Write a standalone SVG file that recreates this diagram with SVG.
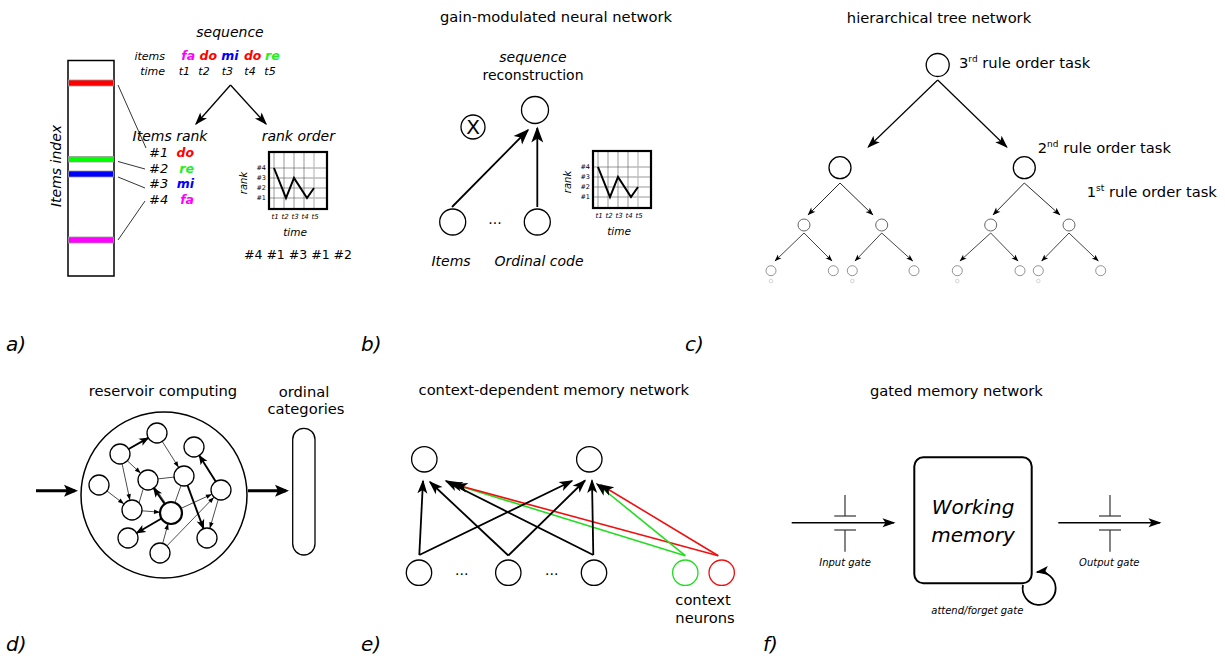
<svg xmlns="http://www.w3.org/2000/svg" xmlns:xlink="http://www.w3.org/1999/xlink" width="1225" height="660" viewBox="0 0 1225 660">
<style>
text{font-family:"DejaVu Sans","Liberation Sans",sans-serif;fill:#000}
.it{font-style:italic}
.bi{font-style:italic;font-weight:bold}
.t{font-size:14.7px}
.lbl{font-size:20px;font-style:italic}
.node{fill:#fff;stroke:#000;stroke-width:1.3}
.ln{fill:none;stroke:#000}
</style>
<defs>
<marker id="mA" markerUnits="userSpaceOnUse" markerWidth="14" markerHeight="10" refX="11.5" refY="4.5" orient="auto" overflow="visible"><path d="M0,0 L13,4.5 L0,9 L3,4.5 Z" fill="#000"/></marker>
<marker id="mB" markerUnits="userSpaceOnUse" markerWidth="17" markerHeight="13" refX="14.5" refY="6" orient="auto" overflow="visible"><path d="M0,0 L16,6 L0,12 L4,6 Z" fill="#000"/></marker>
<marker id="mE" markerUnits="userSpaceOnUse" markerWidth="15" markerHeight="11" refX="12.5" refY="5" orient="auto" overflow="visible"><path d="M0,0 L14,5 L0,10 L3.5,5 Z" fill="#000"/></marker>
<marker id="mS" markerUnits="userSpaceOnUse" markerWidth="9" markerHeight="7" refX="7.5" refY="3" orient="auto" overflow="visible"><path d="M0,0 L8,3 L0,6 L2,3 Z" fill="#000"/></marker>
<marker id="mT" markerUnits="userSpaceOnUse" markerWidth="8" markerHeight="6" refX="6.5" refY="2.6" orient="auto" overflow="visible"><path d="M0,0 L7,2.6 L0,5.2 L1.7,2.6 Z" fill="#000"/></marker>
<marker id="mDt" markerUnits="userSpaceOnUse" markerWidth="7" markerHeight="5" refX="6" refY="2.2" orient="auto" overflow="visible"><path d="M0,0 L6,2.2 L0,4.4 Z" fill="#000"/></marker>
<marker id="mDk" markerUnits="userSpaceOnUse" markerWidth="11" markerHeight="9" refX="9" refY="4" orient="auto" overflow="visible"><path d="M0,0 L10,4 L0,8 L2.5,4 Z" fill="#000"/></marker>
<marker id="mBig" markerUnits="userSpaceOnUse" markerWidth="15" markerHeight="13" refX="11" refY="6" orient="auto" overflow="visible"><path d="M0,0 L14,6 L0,12 L3,6 Z" fill="#000"/></marker>
<g id="chart">
 <g stroke="#555" stroke-width="0.6">
  <line x1="5" y1="0" x2="5" y2="57"/><line x1="15" y1="0" x2="15" y2="57"/><line x1="25" y1="0" x2="25" y2="57"/><line x1="35" y1="0" x2="35" y2="57"/>
  <line x1="0" y1="16" x2="58" y2="16"/><line x1="0" y1="26" x2="58" y2="26"/><line x1="0" y1="36" x2="58" y2="36"/><line x1="0" y1="46" x2="58" y2="46"/>
 </g>
 <line x1="45" y1="0" x2="45" y2="57" stroke="#bbb" stroke-width="1.2"/>
 <rect x="0" y="0" width="58" height="57" fill="none" stroke="#000" stroke-width="2.2"/>
 <polyline points="5,16 17,46 25,26 38,46 45,36" fill="none" stroke="#000" stroke-width="2"/>
 <g style="font-size:6.5px" text-anchor="end">
  <text x="-3" y="18.3">#4</text><text x="-3" y="28.3">#3</text><text x="-3" y="38.3">#2</text><text x="-3" y="48.3">#1</text>
 </g>
 <text class="it" style="font-size:10px" text-anchor="middle" transform="translate(-22,31) rotate(-90)">rank</text>
 <g class="it" style="font-size:7px" text-anchor="middle">
  <text x="6" y="67">t1</text><text x="16" y="67">t2</text><text x="26" y="67">t3</text><text x="36" y="67">t4</text><text x="46" y="67">t5</text>
 </g>
 <text class="it" style="font-size:10.5px" x="26" y="83.5" text-anchor="middle">time</text>
</g>
</defs>

<!-- Panel labels -->
<g id="panel-labels">
<text class="lbl" x="6" y="351">a)</text>
<text class="lbl" x="361" y="351">b)</text>
<text class="lbl" x="685" y="351">c)</text>
<text class="lbl" x="6" y="651">d)</text>
<text class="lbl" x="361" y="651">e)</text>
<text class="lbl" x="763" y="651">f)</text>
</g>

<!-- Panel a -->
<g id="a-index">
 <rect x="68" y="60.5" width="46" height="215.5" fill="#fff" stroke="#000" stroke-width="1.5"/>
 <g stroke="#999" stroke-width="0.8">
  <rect x="68.5" y="80" width="45" height="6" fill="#ff0000"/>
  <rect x="68.5" y="156.5" width="45" height="5.5" fill="#00ff00"/>
  <rect x="68.5" y="171" width="45" height="6" fill="#0000ff"/>
  <rect x="68.5" y="237" width="45" height="6" fill="#ff00ff"/>
 </g>
 <text class="it t" style="font-size:14px" text-anchor="middle" transform="translate(61,166) rotate(-90)">Items index</text>
</g>
<g id="a-sequence">
 <text class="it" style="font-size:14px" x="230" y="36.5" text-anchor="middle">sequence</text>
 <text class="it" style="font-size:11px" x="165" y="60" text-anchor="end">items</text>
 <text class="it" style="font-size:11px" x="165" y="75" text-anchor="end">time</text>
 <g class="bi" style="font-size:12.5px" text-anchor="middle">
  <text x="188.3" y="60" style="fill:#ff00ff">fa</text>
  <text x="208.3" y="60" style="fill:#ff0000">do</text>
  <text x="230" y="60" style="fill:#0000ff">mi</text>
  <text x="252.7" y="60" style="fill:#ff0000">do</text>
  <text x="272.3" y="60" style="fill:#22ee22">re</text>
 </g>
 <g class="it" style="font-size:11px" text-anchor="middle">
  <text x="184.3" y="75">t1</text><text x="204" y="75">t2</text><text x="227.3" y="75">t3</text><text x="250" y="75">t4</text><text x="270" y="75">t5</text>
 </g>
</g>
<g id="a-rank">
 <text class="it" style="font-size:14px" x="170" y="141" text-anchor="middle">Items rank</text>
 <g class="it" style="font-size:13px">
  <text x="149" y="157">#1</text><text x="149" y="172.7">#2</text><text x="149" y="188.3">#3</text><text x="149" y="204">#4</text>
 </g>
 <g class="bi" style="font-size:12.5px" text-anchor="end">
  <text x="194" y="157" style="fill:#ff0000">do</text>
  <text x="194" y="172.7" style="fill:#22ee22">re</text>
  <text x="194" y="188.3" style="fill:#0000ff">mi</text>
  <text x="194" y="204" style="fill:#ff00ff">fa</text>
 </g>
</g>
<g id="a-rankorder">
 <text class="it" style="font-size:14px" x="298.3" y="140.5" text-anchor="middle">rank order</text>
 <use xlink:href="#chart" href="#chart" x="269" y="152"/>
 <text style="font-size:12.5px" x="298" y="259" text-anchor="middle">#4 #1 #3 #1 #2</text>
</g>
<g id="a-connectors">
 <g class="ln" stroke-width="0.8" stroke="#333">
  <line x1="118" y1="85" x2="146" y2="148"/>
  <line x1="118" y1="161.5" x2="145" y2="169"/>
  <line x1="118" y1="177" x2="145" y2="188"/>
  <line x1="118" y1="240" x2="145" y2="201"/>
 </g>
 <g class="ln" stroke-width="1.3">
  <path d="M230.5,85 L196,124" marker-end="url(#mA)"/>
  <path d="M230.5,85 L266,124" marker-end="url(#mA)"/>
 </g>
</g>

<!-- Panel b -->
<g id="b-title"><text class="t" x="556" y="21.5" text-anchor="middle">gain-modulated neural network</text></g>
<g id="b-output">
 <text class="it" style="font-size:14px" x="533" y="62" text-anchor="middle">sequence</text>
 <text style="font-size:14px" x="533" y="80" text-anchor="middle">reconstruction</text>
 <circle class="node" cx="535" cy="110" r="13.5"/>
</g>
<g id="b-gain">
 <circle class="node" cx="473" cy="127" r="12"/>
 <text style="font-size:20px" x="473" y="134" text-anchor="middle">X</text>
</g>
<g id="b-items">
 <circle class="node" cx="452.7" cy="222" r="13"/>
 <text class="it" style="font-size:14px" x="451" y="266" text-anchor="middle">Items</text>
</g>
<g id="b-ordinal">
 <circle class="node" cx="537.3" cy="222" r="13"/>
 <text class="it" style="font-size:14px" x="539" y="266" text-anchor="middle">Ordinal code</text>
</g>
<text style="font-size:14px" x="495" y="224" text-anchor="middle">...</text>
<g id="b-chart"><use xlink:href="#chart" href="#chart" x="593" y="151"/></g>
<g id="b-connectors" class="ln" stroke-width="1.8">
 <path d="M452,207 L528,130" marker-end="url(#mB)"/>
 <path d="M537.3,207 L537.3,128" marker-end="url(#mB)"/>
</g>

<!-- Panel c -->
<g id="c-title"><text class="t" x="939" y="22.5" text-anchor="middle">hierarchical tree network</text></g>
<g id="c-root">
 <circle class="node" cx="937.7" cy="65" r="11.5"/>
 <text class="t" x="959" y="68.3">3<tspan dy="-6" style="font-size:9px">rd</tspan><tspan dy="6"> rule order task</tspan></text>
</g>
<g id="c-l2">
 <circle class="node" cx="840" cy="167.7" r="11"/>
 <circle class="node" cx="1024.3" cy="167.7" r="11"/>
 <text class="t" x="1037.7" y="153.3">2<tspan dy="-6" style="font-size:9px">nd</tspan><tspan dy="6"> rule order task</tspan></text>
 <text class="t" x="1086.7" y="196.7">1<tspan dy="-6" style="font-size:9px">st</tspan><tspan dy="6"> rule order task</tspan></text>
</g>
<g id="c-l3" fill="#fff" stroke="#555" stroke-width="0.9">
 <circle cx="804" cy="225" r="6"/><circle cx="881.7" cy="225" r="6"/><circle cx="990.7" cy="225" r="6"/><circle cx="1069" cy="225" r="6"/>
</g>
<g id="c-l4" fill="#fff" stroke="#777" stroke-width="0.8">
 <circle cx="771" cy="270.7" r="5"/><circle cx="833.3" cy="270.7" r="5"/><circle cx="852.3" cy="270.7" r="5"/><circle cx="914" cy="270.7" r="5"/>
 <circle cx="957.3" cy="270.7" r="5"/><circle cx="1020" cy="270.7" r="5"/><circle cx="1038.3" cy="270.7" r="5"/><circle cx="1100.7" cy="270.7" r="5"/>
</g>
<g id="c-l5" fill="#fff" stroke="#bbb" stroke-width="0.6">
 <circle cx="771" cy="281" r="1.8"/><circle cx="852.3" cy="281" r="1.8"/><circle cx="957.3" cy="281" r="1.8"/><circle cx="1038.3" cy="281" r="1.8"/>
</g>
<g id="c-connectors" class="ln">
 <g stroke-width="1.2">
  <path d="M937.7,80 L868.3,147" marker-end="url(#mA)"/>
  <path d="M937.7,80 L1006.7,147" marker-end="url(#mA)"/>
 </g>
 <g stroke-width="0.9" stroke="#111">
  <path d="M840,183 L808,215" marker-end="url(#mS)"/>
  <path d="M840,183 L873,215" marker-end="url(#mS)"/>
  <path d="M1024.3,183 L993,215" marker-end="url(#mS)"/>
  <path d="M1024.3,183 L1060,215" marker-end="url(#mS)"/>
 </g>
 <g stroke-width="0.85" stroke="#222">
  <path d="M804,233 L775,261" marker-end="url(#mT)"/>
  <path d="M804,233 L832,261" marker-end="url(#mT)"/>
  <path d="M881.7,233 L855,261" marker-end="url(#mT)"/>
  <path d="M881.7,233 L912.7,261" marker-end="url(#mT)"/>
  <path d="M990.7,233 L960,261" marker-end="url(#mT)"/>
  <path d="M990.7,233 L1018,261" marker-end="url(#mT)"/>
  <path d="M1069,233 L1041.7,261" marker-end="url(#mT)"/>
  <path d="M1069,233 L1098.3,261" marker-end="url(#mT)"/>
 </g>
</g>

<!-- Panel d -->
<g id="d-title"><text class="t" x="163" y="396" text-anchor="middle">reservoir computing</text></g>
<g id="d-reservoir">
 <circle cx="164" cy="495" r="83" fill="#fff" stroke="#000" stroke-width="1.5"/>
 <g class="node">
  <circle cx="157" cy="433" r="10"/><circle cx="120" cy="454" r="10"/><circle cx="194" cy="447" r="10"/>
  <circle cx="99" cy="485" r="10"/><circle cx="148" cy="480" r="10"/><circle cx="184" cy="476" r="10"/>
  <circle cx="221" cy="490" r="10"/><circle cx="132" cy="510" r="10"/>
  <circle cx="128" cy="538" r="10"/><circle cx="207" cy="538" r="10"/><circle cx="160" cy="553" r="10"/>
 </g>
 <circle cx="171" cy="513" r="11" fill="#fff" stroke="#000" stroke-width="2.2"/>
</g>
<g id="d-categories">
 <text class="t" x="304" y="397" text-anchor="middle">ordinal</text>
 <text class="t" x="306" y="414" text-anchor="middle">categories</text>
 <rect x="292.7" y="428.3" width="22.3" height="126.7" rx="11.15" fill="#fff" stroke="#000" stroke-width="1.3"/>
</g>
<g id="d-connectors" class="ln">
 <g stroke-width="3">
  <path d="M36,490.7 L75,490.7" marker-end="url(#mBig)"/>
  <path d="M248,490.7 L286,490.7" marker-end="url(#mBig)"/>
 </g>
 <g stroke-width="1.9">
  <path d="M128.7,449 L148.3,437.9" marker-end="url(#mDk)"/>
  <path d="M164.7,504 L153.7,488.2" marker-end="url(#mDk)"/>
  <path d="M161.5,518.5 L136.6,533" marker-end="url(#mDk)"/>
  <path d="M187.5,485.4 L203.5,528.6" marker-end="url(#mDk)"/>
  <path d="M215.7,481.5 L199.3,455.5" marker-end="url(#mDk)"/>
 </g>
 <g stroke-width="0.7">
  <path d="M162.3,441.5 L178.7,467.5" marker-end="url(#mDt)"/>
  <path d="M127.3,460.8 L140.7,473.2" marker-end="url(#mDt)"/>
  <path d="M122.1,463.8 L129.9,500.2" marker-end="url(#mDt)"/>
  <path d="M107,491 L124,504" marker-end="url(#mDt)"/>
  <path d="M158,478.9 L174,477.1"/>
  <path d="M142,510.8 L160,512.2" marker-end="url(#mDt)"/>
  <path d="M218.2,499.6 L209.8,528.4" marker-end="url(#mDt)"/>
  <path d="M181,508.4 L211.9,494.2" marker-end="url(#mDt)"/>
  <path d="M162.7,543.4 L168.1,523.6" marker-end="url(#mDt)"/>
  <path d="M167,545.8 L214,497.2" marker-end="url(#mDt)"/>
  <path d="M181,485.5 L175,502.5"/>
  <path d="M139,503 L143,489.5"/>
  <path d="M155,487.5 L165,502.5"/>
 </g>
</g>

<!-- Panel e -->
<g id="e-title"><text class="t" x="553.8" y="394.5" text-anchor="middle">context-dependent memory network</text></g>
<g id="e-top1"><circle class="node" cx="424.3" cy="459.3" r="12.7"/></g>
<g id="e-top2"><circle class="node" cx="589.3" cy="459.3" r="12.7"/></g>
<g id="e-bot1"><circle class="node" cx="419" cy="572.7" r="12.7"/></g>
<g id="e-bot2"><circle class="node" cx="508.3" cy="572.7" r="12.7"/></g>
<g id="e-bot3"><circle class="node" cx="594" cy="572.7" r="12.7"/></g>
<g id="e-ctx-green"><circle cx="685.3" cy="572.7" r="12.7" fill="#fff" stroke="#22dd22" stroke-width="1.3"/></g>
<g id="e-ctx-red"><circle cx="721.7" cy="572.7" r="12.7" fill="#fff" stroke="#ee1111" stroke-width="1.3"/></g>
<g id="e-labels">
 <text style="font-size:14px" x="461.7" y="575" text-anchor="middle">...</text>
 <text style="font-size:14px" x="551.7" y="575" text-anchor="middle">...</text>
 <text class="t" x="703" y="605" text-anchor="middle">context</text>
 <text class="t" x="705" y="622.7" text-anchor="middle">neurons</text>
</g>
<g id="e-connectors" class="ln">
 <g stroke-width="1.6">
  <path d="M685.3,555.7 L450,483" stroke="#22dd22" marker-end="url(#mE)"/>
  <path d="M718.3,555.7 L455,484.5" stroke="#ee1111" marker-end="url(#mE)"/>
  <path d="M685.3,555.7 L597,484" stroke="#22dd22" marker-end="url(#mE)"/>
  <path d="M718.3,555.7 L601,485" stroke="#ee1111" marker-end="url(#mE)"/>
 </g>
 <g stroke-width="1.8">
  <path d="M419.3,555 L423,481" marker-end="url(#mE)"/>
  <path d="M419.3,555 L572,481" marker-end="url(#mE)"/>
  <path d="M508.3,555.5 L430,482" marker-end="url(#mE)"/>
  <path d="M508.3,555.5 L585,480.5" marker-end="url(#mE)"/>
  <path d="M593.3,555 L446,481" marker-end="url(#mE)"/>
  <path d="M593.3,555 L592,480.5" marker-end="url(#mE)"/>
 </g>
</g>

<!-- Panel f -->
<g id="f-title"><text class="t" x="956.3" y="396" text-anchor="middle">gated memory network</text></g>
<g id="f-memory">
 <rect x="914.3" y="457.3" width="117.4" height="126" rx="9" fill="#fff" stroke="#000" stroke-width="2"/>
 <text class="it" style="font-size:20px" x="973" y="514" text-anchor="middle">Working</text>
 <text class="it" style="font-size:20px" x="973" y="541.5" text-anchor="middle">memory</text>
</g>
<g id="f-input-gate">
 <g stroke="#333" stroke-width="1.2">
  <line x1="845" y1="495" x2="845" y2="516"/><line x1="834.3" y1="516" x2="856" y2="516"/>
  <line x1="834.3" y1="530" x2="856" y2="530"/><line x1="845" y1="530" x2="845" y2="551.7"/>
 </g>
 <text class="it" style="font-size:10px" x="845" y="565.5" text-anchor="middle">Input gate</text>
</g>
<g id="f-output-gate">
 <g stroke="#333" stroke-width="1.2">
  <line x1="1110" y1="495" x2="1110" y2="516"/><line x1="1099" y1="516" x2="1121" y2="516"/>
  <line x1="1099" y1="530" x2="1121" y2="530"/><line x1="1110" y1="530" x2="1110" y2="551.7"/>
 </g>
 <text class="it" style="font-size:10px" x="1109.3" y="565.5" text-anchor="middle">Output gate</text>
</g>
<text id="f-loop-label" class="it" style="font-size:10px" x="977.3" y="614.3" text-anchor="middle">attend/forget gate</text>
<g id="f-connectors" class="ln" stroke-width="1.5">
 <path d="M791.7,522.7 L894,522.7" marker-end="url(#mA)"/>
 <path d="M1058.3,522.7 L1160,522.7" marker-end="url(#mA)"/>
 <path d="M1023,585 A16.5,16.5 0 1 0 1037,572" stroke-width="1.8" marker-end="url(#mA)"/>
</g>
</svg>
